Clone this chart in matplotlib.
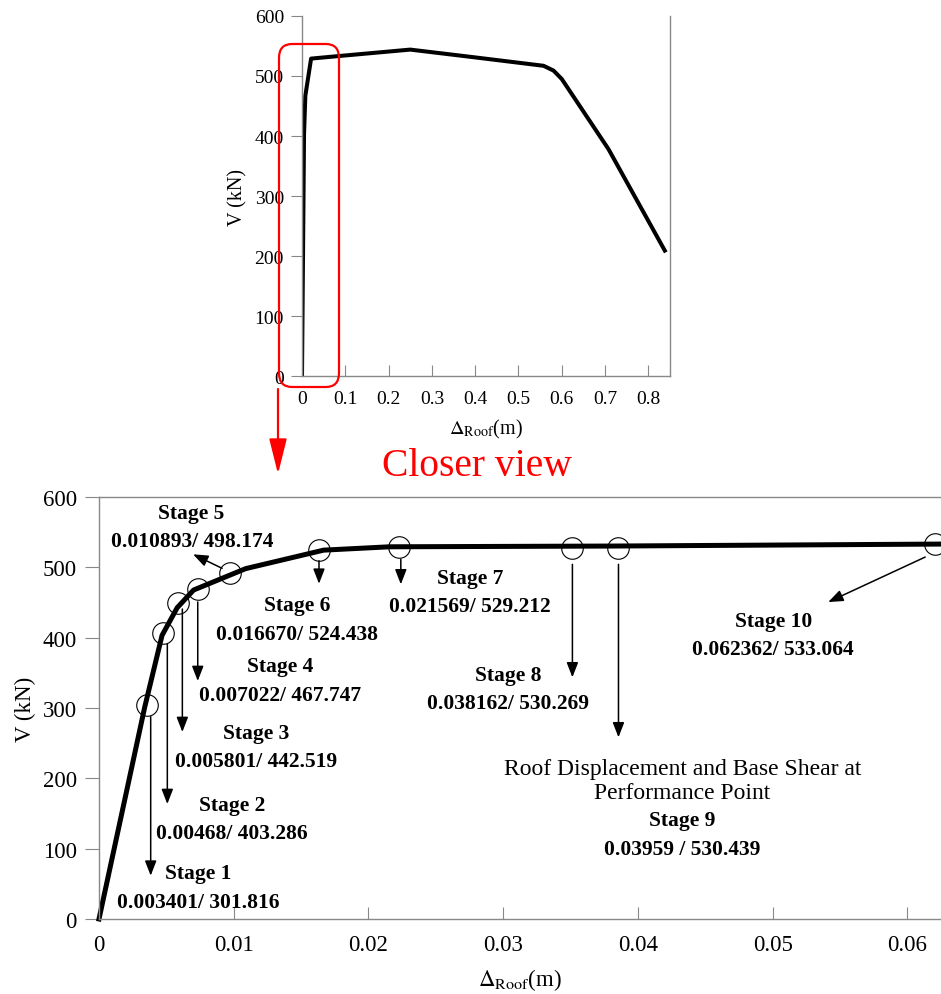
import matplotlib
matplotlib.use("Agg")
import matplotlib.pyplot as plt
from matplotlib.patches import FancyBboxPatch, FancyArrowPatch
from matplotlib.transforms import offset_copy

plt.rcParams["font.family"] = ["Liberation Serif", "DejaVu Serif"]
plt.rcParams["mathtext.fontset"] = "stix"

# full pushover curve (top panel)
disp_full = [0, 0.0047, 0.0077, 0.021, 0.081, 0.25, 0.40, 0.558, 0.581, 0.60, 0.708, 0.838]
shear_full = [0, 403, 467, 529, 533, 544, 531, 517, 509, 495, 378, 209]

# closer view (bottom panel), curve through labelled stage values
stage_disp = [0.003401, 0.00468, 0.005801, 0.007022, 0.010893, 0.016670,
              0.021569, 0.038162, 0.03959, 0.062362]
stage_shear = [301.816, 403.286, 442.519, 467.747, 498.174, 524.438,
               529.212, 530.269, 530.439, 533.064]
curve_disp = [0] + stage_disp
curve_shear = [0] + stage_shear

# circle markers as drawn in the figure
circle_disp = [0.00354, 0.00473, 0.00589, 0.00733, 0.00973, 0.01633,
               0.02230, 0.03514, 0.03856, 0.06207]
circle_shear = [304.7, 406.6, 449.3, 469.2, 491.5, 525.0, 528.4, 527.0, 527.0, 533.1]

stage_names = ["Stage %d" % i for i in range(1, 11)]
stage_values = ["0.003401/ 301.816", "0.00468/ 403.286", "0.005801/ 442.519",
                "0.007022/ 467.747", "0.010893/ 498.174", "0.016670/ 524.438",
                "0.021569/ 529.212", "0.038162/ 530.269", "0.03959 / 530.439",
                "0.062362/ 533.064"]

W, H = 941, 995
fig = plt.figure(figsize=(W / 100, H / 100), dpi=100)
GRAY = "#888888"

# ---------------- top panel ----------------
ax1 = fig.add_axes([302 / W, 1 - 377 / H, 368 / W, 360 / H])
ax1.plot(disp_full, shear_full, color="black", lw=2.9, solid_joinstyle="round")
ax1.set_xlim(0, 0.85)
ax1.set_ylim(0, 600)
ax1.set_xticks([0, 0.1, 0.2, 0.3, 0.4, 0.5, 0.6, 0.7, 0.8])
ax1.set_xticklabels(["0", "0.1", "0.2", "0.3", "0.4", "0.5", "0.6", "0.7", "0.8"])
ax1.set_yticks(range(0, 601, 100))
ax1.spines["top"].set_visible(False)
for s in ["left", "bottom", "right"]:
    ax1.spines[s].set_color(GRAY)
    ax1.spines[s].set_linewidth(1.0)
ax1.tick_params(axis="x", direction="in", length=8, color=GRAY, labelsize=14, pad=10)
ax1.tick_params(axis="y", direction="out", length=8, color=GRAY, labelsize=14, pad=5)
ax1.set_xlabel(r"$\Delta_{\mathrm{Roof}}$(m)", fontsize=14.5, labelpad=7)
ax1.set_ylabel("V (kN)", fontsize=14.5, labelpad=5)

# red zoom box and arrow
box = FancyBboxPatch((279 / W, 1 - 388 / H), 60 / W, 343 / H,
                     boxstyle="round,pad=0,rounding_size=0.014",
                     transform=fig.transFigure, fill=False, ec="red", lw=1.6)
fig.patches.append(box)
arr = FancyArrowPatch((278 / W, 1 - 390 / H), (278 / W, 1 - 475 / H),
                      transform=fig.transFigure, arrowstyle="-|>,head_length=1.8,head_width=0.45",
                      mutation_scale=12, color="red", lw=1.6, shrinkA=0, shrinkB=0)
fig.patches.append(arr)
fig.text(477 / W, 1 - 467 / H, "Closer view", color="red", fontsize=28.5,
         ha="center", va="center")

# ---------------- bottom panel ----------------
ax2 = fig.add_axes([99 / W, 1 - 920 / H, 842 / W, 422 / H])
ax2.plot(curve_disp, curve_shear, color="black", lw=3.6, solid_joinstyle="round", clip_on=False)
ax2.plot(circle_disp, circle_shear, "o", ms=15.5, mfc="none", mec="black", mew=0.8, clip_on=False)
ax2.set_xlim(0, 0.0625)
ax2.set_ylim(0, 600)
ax2.set_xticks([0, 0.01, 0.02, 0.03, 0.04, 0.05, 0.06])
ax2.set_xticklabels(["0", "0.01", "0.02", "0.03", "0.04", "0.05", "0.06"])
ax2.set_yticks(range(0, 601, 100))
ax2.spines["right"].set_visible(False)
for s in ["left", "bottom", "top"]:
    ax2.spines[s].set_color(GRAY)
    ax2.spines[s].set_linewidth(1.0)
ax2.tick_params(axis="x", direction="in", length=9, color=GRAY, labelsize=16.5, pad=11)
ax2.tick_params(axis="y", direction="out", length=10, color=GRAY, labelsize=16.5, pad=6)
ax2.set_xlabel(r"$\Delta_{\mathrm{Roof}}$(m)", fontsize=16.5, labelpad=8)
ax2.set_ylabel("V (kN)", fontsize=16.5, labelpad=5)

# arrow tail / head offsets (pixels, relative to circle centre, y down)
arrow_tail = [(4, 12), (4.6, 11), (4, 6), (0, 13), (-8, -5), (0, 11),
              (1.4, 12), (0, 16), (0, 16), (-10, 13)]
arrow_head = [(4, 171), (4.6, 171), (4, 129), (0, 92), (-37, -19), (0, 34),
              (1.4, 37), (0, 129), (0, 189), (-107, 58)]
# label centres (pixels, relative to circle centre, y down): name, value
name_off = [(51, 168), (69, 172), (78, 130), (82, 77), (-39, -60), (-22, 55),
            (71, 31), (-64, 127), (64, 272), (-162, 77)]
value_off = [(52, 197), (69, 200), (78, 158), (82, 106), (-38, -32), (-22, 84),
             (70, 59), (-64, 155), (64, 301), (-162, 105)]

for i in range(10):
    cx, cy = circle_disp[i], circle_shear[i]
    hx, hy = arrow_head[i]
    tx, ty = arrow_tail[i]
    tr = offset_copy(ax2.transData, fig=fig, x=hx, y=-hy, units="dots")
    ax2.annotate("", xy=(cx, cy), xycoords=tr, xytext=(tx - hx, -(ty - hy)),
                 textcoords="offset pixels",
                 arrowprops=dict(arrowstyle="-|>,head_length=0.9,head_width=0.35",
                                 mutation_scale=10, color="black", lw=1.1,
                                 shrinkA=0, shrinkB=0))
    ax2.annotate(stage_names[i], xy=(cx, cy), xytext=(name_off[i][0], -name_off[i][1]),
                 textcoords="offset pixels", ha="center", va="center",
                 fontsize=15.5, fontweight="bold")
    ax2.annotate(stage_values[i], xy=(cx, cy), xytext=(value_off[i][0], -value_off[i][1]),
                 textcoords="offset pixels", ha="center", va="center",
                 fontsize=15.5, fontweight="bold")

# performance point description for stage 9
ax2.annotate("Roof Displacement and Base Shear at\nPerformance Point",
             xy=(circle_disp[8], circle_shear[8]), xytext=(64, -232),
             textcoords="offset pixels", ha="center", va="center",
             fontsize=17, linespacing=1.15)

fig.savefig("out.png", dpi=100)
